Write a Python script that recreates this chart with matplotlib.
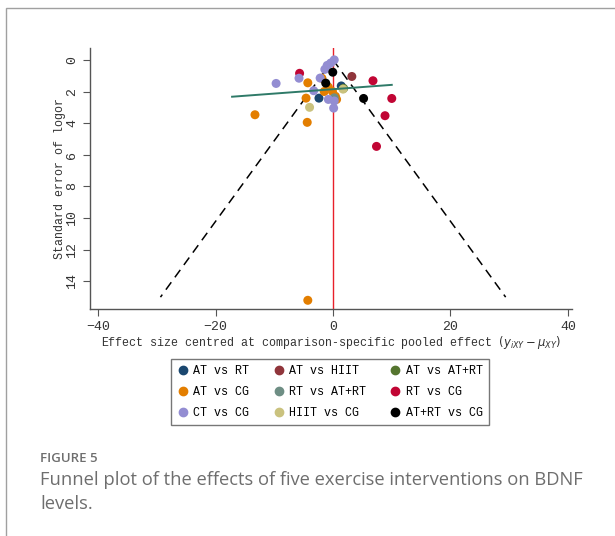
import numpy as np
import matplotlib.pyplot as plt
from matplotlib.patches import Rectangle
from matplotlib.lines import Line2D

# 各比较组的效应量(居中)与标准误
comparisons = ["AT vs RT", "AT vs HIIT", "AT vs AT+RT",
               "AT vs CG", "RT vs AT+RT", "RT vs CG",
               "CT vs CG", "HIIT vs CG", "AT+RT vs CG"]
colors = ["#1a476f", "#90353b", "#55752f",
          "#e37e00", "#6e8e84", "#c10534",
          "#938dd2", "#cac27e", "#000000"]

effect = {
    "AT vs RT": [1.4, -2.4],
    "AT vs HIIT": [3.2],
    "AT vs AT+RT": [1.8],
    "AT vs CG": [-4.3, -1.9, -0.8, -0.1, 0.4, -1.5, 0.6, -4.6, -4.4, -13.3, -4.3],
    "RT vs AT+RT": [0.2],
    "RT vs CG": [-5.7, 6.8, 10.0, 8.85, 7.4],
    "CT vs CG": [0.2, -0.4, -1.0, -1.4, -2.2, -5.8, -9.7, -3.3, -0.8, 0.1, 0.2],
    "HIIT vs CG": [1.7, -4.0],
    "AT+RT vs CG": [-0.05, -1.25, 5.2],
}
se = {
    "AT vs RT": [1.65, 2.42],
    "AT vs HIIT": [1.05],
    "AT vs AT+RT": [1.8],
    "AT vs CG": [1.45, 1.16, 1.72, 2.0, 2.3, 2.0, 2.5, 2.42, 3.95, 3.47, 15.2],
    "RT vs AT+RT": [2.4],
    "RT vs CG": [0.85, 1.32, 2.44, 3.53, 5.47],
    "CT vs CG": [0.0, 0.2, 0.35, 0.6, 1.15, 1.16, 1.49, 1.95, 2.5, 3.05, 2.6],
    "HIIT vs CG": [1.85, 3.0],
    "AT+RT vs CG": [0.78, 1.47, 2.44],
}

# 漏斗线 (95% 区间) 与回归线
se_max = 15.0
reg_x = [-17.2, 10.0]
reg_y = [2.33, 1.58]

mono = "Liberation Mono"

fig = plt.figure(figsize=(6.15, 5.36), dpi=100)
ax = fig.add_axes([90/615, 1-309/536, (572-90)/615, (309-48)/536])

ax.plot([0, -1.96*se_max], [0, se_max], color="black", ls=(0, (6, 4)), lw=1.1, zorder=2)
ax.plot([0, 1.96*se_max], [0, se_max], color="black", ls=(0, (6, 4)), lw=1.1, zorder=2)
ax.axvline(0, color="#e8202a", lw=1.0, zorder=1)

for name, c in zip(comparisons, colors):
    ax.scatter(effect[name], se[name], s=42, color=c, edgecolors="none", zorder=3)

ax.plot(reg_x, reg_y, color="#2f7a68", lw=1.4, zorder=4)

ax.set_xlim(-41.4, 40.7)
ax.set_ylim(15.75, -0.75)
ax.set_xticks([-40, -20, 0, 20, 40])
ax.set_yticks(range(0, 16, 2))
for s in ["top", "right"]:
    ax.spines[s].set_visible(False)
for s in ["left", "bottom"]:
    ax.spines[s].set_color("#555555")
    ax.spines[s].set_linewidth(1.0)
ax.tick_params(length=5, color="#555555", labelcolor="#333333")
for lab in ax.get_xticklabels() + ax.get_yticklabels():
    lab.set_fontfamily(mono)
    lab.set_fontsize(9.5)
for lab in ax.get_yticklabels():
    lab.set_rotation(90)
    lab.set_va("center")

ax.set_xlabel("Effect size centred at comparison-specific pooled effect "
              r"$(y_{iXY}-\mu_{XY})$", fontfamily=mono, fontsize=8.4,
              color="#333333", labelpad=1)
ax.set_ylabel("Standard error of logor", fontfamily=mono, fontsize=8.4,
              color="#333333", labelpad=0)

# 图例 (按行排列)
order = [0, 3, 6, 1, 4, 7, 2, 5, 8]
handles = [Line2D([], [], marker="o", ls="none", color=colors[i], markersize=6)
           for i in order]
labels = [comparisons[i] for i in order]
fig.legend(handles, labels, ncol=3, loc="upper center",
           bbox_to_anchor=(330/615, 1-353/536), frameon=True, fancybox=False,
           edgecolor="#555555", prop={"family": mono, "size": 8.4},
           handletextpad=0.4, columnspacing=2.0, labelspacing=0.75,
           handlelength=1.0, borderpad=0.55)

# 外框与图注
fig.patches.append(Rectangle((6/615, -0.1), 1.2, 1-8/536+0.1, transform=fig.transFigure,
                             fill=False, edgecolor="#a0a0a0", lw=1.0))
fig.text(40/615, 1-458/536, "FIGURE 5", fontfamily="Open Sans", fontsize=9.5,
         fontweight="semibold", color="#6e6e6e", va="center")
fig.text(40/615, 1-480/536,
         "Funnel plot of the effects of five exercise interventions on BDNF",
         fontfamily="Open Sans", fontsize=13.2, color="#6e6e6e", va="center")
fig.text(40/615, 1-504/536, "levels.", fontfamily="Open Sans", fontsize=13.2,
         color="#6e6e6e", va="center")

fig.savefig("out.png", dpi=100)
